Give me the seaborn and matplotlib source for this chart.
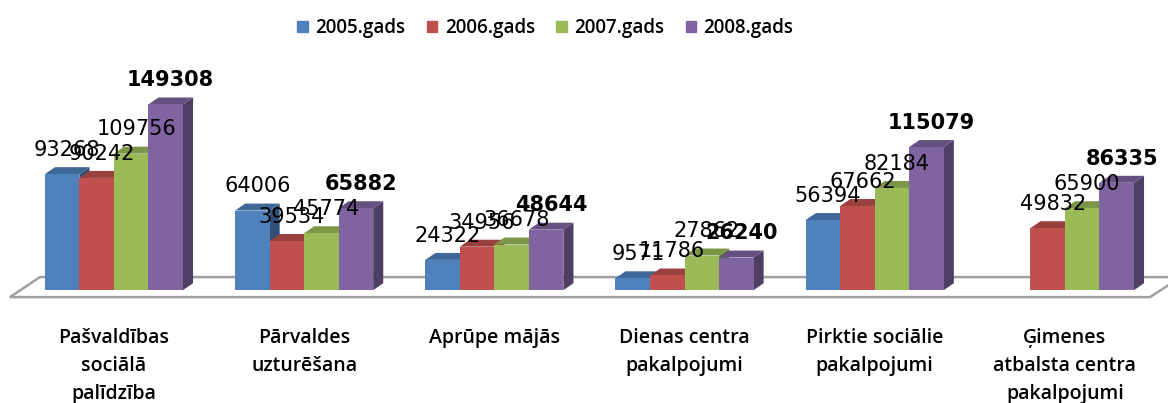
import matplotlib
matplotlib.use("Agg")
import matplotlib.pyplot as plt
import seaborn as sns
import pandas as pd
import numpy as np
from matplotlib.patches import Polygon
from matplotlib.colors import to_rgb

categories = [
    "Pašvaldības\nsociālā\npalīdzība",
    "Pārvaldes\nuzturēšana",
    "Aprūpe mājās",
    "Dienas centra\npakalpojumi",
    "Pirktie sociālie\npakalpojumi",
    "Ģimenes\natbalsta centra\npakalpojumi",
]
years = ["2005.gads", "2006.gads", "2007.gads", "2008.gads"]
v2005 = [93268, 64006, 24322, 9571, 56394, np.nan]
v2006 = [90242, 39534, 34956, 11786, 67662, 49832]
v2007 = [109756, 45774, 36678, 27862, 82184, 65900]
v2008 = [149308, 65882, 48644, 26240, 115079, 86335]
colors = ["#4F81BD", "#C0504D", "#9BBB59", "#8064A2"]

rows = []
for yr, vals in zip(years, [v2005, v2006, v2007, v2008]):
    for cat, v in zip(categories, vals):
        rows.append({"cat": cat, "year": yr, "value": v})
df = pd.DataFrame(rows)

sns.set_style("white")
plt.rcParams["font.family"] = ["DejaVu Sans"]

fig = plt.figure(figsize=(11.68, 4.03), dpi=100)
ax = fig.add_axes([0.0, 0.28, 1.0, 0.571])

sns.barplot(data=df, x="cat", y="value", hue="year", palette=colors,
            width=0.726, ax=ax, saturation=1, edgecolor="none", legend=False)

ax.set_xlim(-0.599, 5.542)
ax.set_ylim(0, 185000)

# 3D depth in data units
dx = 0.053
dy = 5600

def shade(c, f):
    r, g, b = to_rgb(c)
    return (r * f, g * f, b * f)

# floor
floor = Polygon([(-0.547, -5600), (5.447, -5600), (5.61, 10500), (-0.389, 10500)],
                closed=True, facecolor="white", edgecolor="#a0a0a0", lw=1.8,
                zorder=0.5, clip_on=False)
ax.add_patch(floor)

for i, cont in enumerate(ax.containers):
    col = colors[i]
    for bar, v in zip(cont, [v2005, v2006, v2007, v2008][i]):
        if np.isnan(v):
            continue
        x0 = bar.get_x()
        w = bar.get_width()
        h = bar.get_height()
        bar.set_zorder(3)
        side = Polygon([(x0 + w, 0), (x0 + w + dx, dy), (x0 + w + dx, h + dy), (x0 + w, h)],
                       closed=True, facecolor=shade(col, 0.62), edgecolor="none", zorder=2.9)
        top = Polygon([(x0, h), (x0 + dx, h + dy), (x0 + w + dx, h + dy), (x0 + w, h)],
                      closed=True, facecolor=shade(col, 0.8), edgecolor="none", zorder=2.9)
        ax.add_patch(side)
        ax.add_patch(top)
        ax.text(x0 + w / 2 + dx / 2, h + dy + 9000, f"{int(v)}", ha="center", va="baseline",
                fontsize=15, fontweight="bold" if i == 3 else "normal",
                color="black", zorder=5)

sns.despine(ax=ax, left=True, bottom=True)
ax.set_yticks([])
ax.set_xlabel("")
ax.set_ylabel("")
ax.set_xticks(range(len(categories)))
ax.set_xticklabels(categories, fontsize=14, linespacing=1.55, color="black",
                   family=["Open Sans", "DejaVu Sans"], fontweight="semibold", va="top")
ax.tick_params(axis="x", length=0, pad=27)

handles = [plt.Rectangle((0, 0), 1, 1, color=c) for c in colors]
leg = fig.legend(handles, years, loc="center", bbox_to_anchor=(0.467, 0.93), ncol=4,
                 frameon=False, handlelength=0.55, handleheight=0.55,
                 columnspacing=1.15, handletextpad=0.4,
                 prop={"family": ["Open Sans", "DejaVu Sans"], "weight": "semibold", "size": 13.5})
for t in leg.get_texts():
    t.set_color("black")

fig.savefig("out.png", dpi=100)
